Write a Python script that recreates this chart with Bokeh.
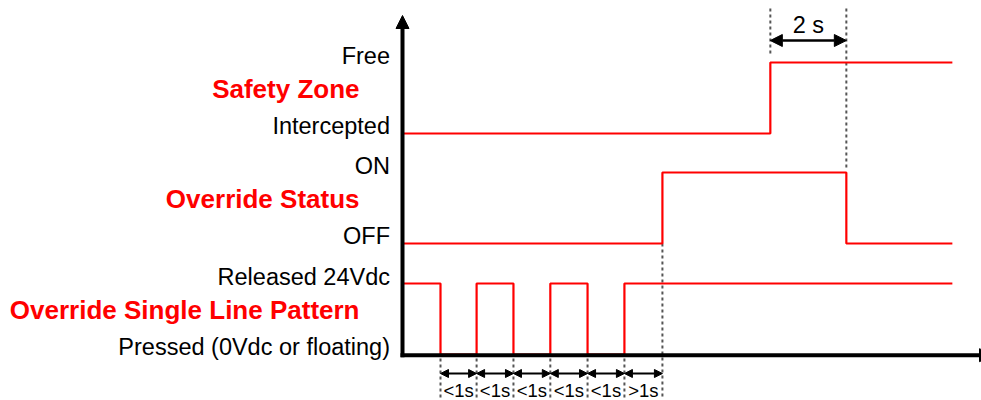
from bokeh.plotting import figure
from bokeh.models import Range1d, Arrow, NormalHead
from bokeh.core.properties import value
from bokeh.embed import file_html
from bokeh.resources import INLINE

# ---------------- data (time in seconds, levels 0/1) ----------------
signal_titles = ["Safety Zone", "Override Status", "Override Single Line Pattern"]
high_labels = ["Free", "ON", "Released 24Vdc"]
low_labels = ["Intercepted", "OFF", "Pressed (0Vdc or floating)"]

safety_t = [0.0, 9.68, 14.47]
safety_level = [0, 1, 1]

status_t = [0.0, 6.84, 11.68, 14.47]
status_level = [0, 1, 0, 0]

pattern_t = [0.0, 1.0, 1.95, 2.92, 3.89, 4.87, 5.84, 14.47]
pattern_level = [1, 0, 1, 0, 1, 0, 1, 1]

interval_marks = [1.0, 1.95, 2.92, 3.89, 4.87, 5.84, 6.84]
interval_labels = ["<1s", "<1s", "<1s", "<1s", "<1s", ">1s"]

delay_start = 9.68
delay_end = 11.68
delay_label = "2 s"

# ---------------- layout helpers (picture pixels -> data) ----------------
W, H = 981, 400
PX_S, PX_U = 38.0, 71.0
OX, OY = 402.0, 354.0  # picture position of the origin


def cx(px):
    return (px - OX) / PX_S


def cy(py):
    return (OY - py) / PX_U


base = [cy(133), cy(243), cy(354)]  # low level of each signal

p = figure(width=W, height=H, output_backend="svg", toolbar_location=None,
           x_range=Range1d(cx(0), cx(W)), y_range=Range1d(cy(H), cy(0)),
           min_border=0, x_axis_type=None, y_axis_type=None)
p.outline_line_color = None
p.grid.visible = False
p.background_fill_color = "white"
p.border_fill_color = "white"

FONT = value("Liberation Sans")
DASH = dict(line_color="#555555", line_width=2, line_dash="3 3")

# dashed guides
p.segment(x0=[delay_start, delay_end], y0=[cy(8), cy(8)],
          x1=[delay_start, delay_end], y1=[cy(54), cy(167)], **DASH)
gx = interval_marks[:-1]
p.segment(x0=gx, y0=[cy(358)] * len(gx), x1=gx, y1=[cy(399)] * len(gx), **DASH)
p.segment(x0=[interval_marks[-1]], y0=[base[1]], x1=[interval_marks[-1]], y1=[cy(399)], **DASH)

# signals
for t, lv, b in [(safety_t, safety_level, base[0]),
                 (status_t, status_level, base[1]),
                 (pattern_t, pattern_level, base[2])]:
    p.step(x=t, y=[b + v for v in lv], mode="after", line_color="#ff0000", line_width=2.2)

# axes
p.add_layout(Arrow(end=NormalHead(size=13, fill_color="black", line_color="black"),
                   x_start=0, y_start=cy(356.7), x_end=0, y_end=cy(15),
                   line_width=4, line_color="black"))
p.add_layout(Arrow(end=NormalHead(size=13, fill_color="black", line_color="black"),
                   x_start=cx(400), y_start=cy(354.7), x_end=cx(992), y_end=cy(354.7),
                   line_width=4, line_color="black"))

# labels (vertical centre of capitals, in picture pixels, relative to the levels)
p.text(x=[0] * 3, y=[b + 1 + 7 / PX_U for b in base], text=high_labels, text_font=FONT,
       text_font_size="23.5px", text_align="right", text_baseline="middle",
       x_offset=-12.5, text_color="black")
p.text(x=[0] * 3, y=[b + 7.5 / PX_U for b in base], text=low_labels, text_font=FONT,
       text_font_size="23.5px", text_align="right", text_baseline="middle",
       x_offset=-12.5, text_color="black")
p.text(x=[0] * 3, y=[b + 0.5 + 8.7 / PX_U for b in base], text=signal_titles, text_font=FONT,
       text_font_size="26px", text_font_style="bold", text_align="right",
       text_baseline="middle", x_offset=-43, text_color="#ff0000")

# 2 s arrow
p.add_layout(Arrow(start=NormalHead(size=12, fill_color="black", line_color="black"),
                   end=NormalHead(size=12, fill_color="black", line_color="black"),
                   x_start=delay_start, y_start=cy(40), x_end=delay_end, y_end=cy(40),
                   line_width=2.5, line_color="black"))
p.text(x=[(delay_start + delay_end) / 2], y=[cy(24)], text=[delay_label], text_font=FONT,
       text_font_size="23.5px", text_align="center", text_baseline="middle",
       text_color="black")

# interval arrows
for a, b in zip(interval_marks[:-1], interval_marks[1:]):
    p.add_layout(Arrow(start=NormalHead(size=8, fill_color="black", line_color="black"),
                       end=NormalHead(size=8, fill_color="black", line_color="black"),
                       x_start=a, y_start=cy(373), x_end=b, y_end=cy(373),
                       line_width=2, line_color="black"))
mids = [(a + b) / 2 for a, b in zip(interval_marks[:-1], interval_marks[1:])]
p.text(x=mids, y=[cy(389.5)] * len(mids), text=interval_labels, text_font=FONT,
       text_font_size="18.5px", text_align="center", text_baseline="middle",
       text_color="black")

open("out.html", "w").write(file_html(p, INLINE))
